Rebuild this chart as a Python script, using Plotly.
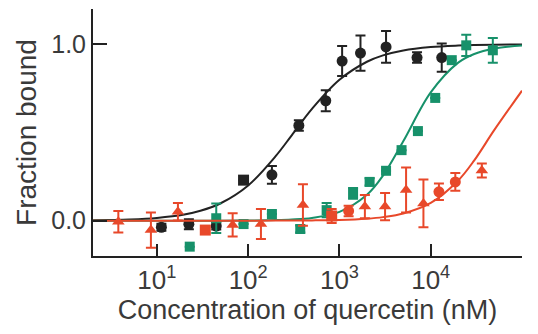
import plotly.graph_objects as go

# ---- data ----
# Black series (circles)
black_x = [11.2, 22.4, 44.7, 89, 182, 359, 708, 1070, 1700, 3240, 7080, 13200]
black_y = [-0.037, -0.02, -0.03, 0.23, 0.26, 0.54, 0.68, 0.905, 0.95, 0.985, 0.925, 0.925]
black_err = [0.02, 0.028, 0.02, 0.0, 0.05, 0.03, 0.06, 0.085, 0.1, 0.09, 0.03, 0.08]
black_sym = ["circle", "circle", "circle", "square", "circle", "circle", "circle",
             "circle", "circle", "circle", "circle", "circle"]

# Green series (squares)
green_x = [44.7, 22.9, 89, 182, 372, 724, 1410, 2140, 3240, 4790, 7240, 11200, 17000, 24500, 47900]
green_y = [0.014, -0.147, -0.019, 0.038, -0.047, 0.06, 0.155, 0.22, 0.283, 0.40, 0.508, 0.696, 0.91, 0.994, 0.966]
green_err = [0.083, 0.0, 0.0, 0.0, 0.02, 0.04, 0.03, 0.02, 0.0, 0.0, 0.0, 0.0, 0.0, 0.06, 0.07]

# Red series (triangles / circles)
red_x = [3.78, 8.6, 17, 33.9, 67.6, 138, 398, 822, 1260, 1900, 3160, 5370, 8320, 12300, 18600, 36300]
red_y = [-0.006, -0.053, 0.051, -0.053, -0.024, -0.019, 0.089, 0.027, 0.055, 0.08, 0.08, 0.174, 0.098, 0.164, 0.22, 0.285]
red_err = [0.061, 0.1, 0.05, 0.015, 0.066, 0.085, 0.118, 0.04, 0.03, 0.066, 0.077, 0.127, 0.135, 0.047, 0.05, 0.04]
red_sym = ["triangle-up", "triangle-up", "triangle-up", "square", "triangle-up", "triangle-up",
           "triangle-up", "square", "circle", "triangle-up", "triangle-up", "triangle-up",
           "triangle-up", "circle", "circle", "triangle-up"]

# Fitted curves, values
curve_x = [2, 3, 5, 10, 20, 30, 50, 100, 200, 300, 500, 1000, 2000, 3000, 5000,
           10000, 20000, 30000, 50000, 100000]
black_fit = [0.002, 0.004, 0.007, 0.016, 0.035, 0.056, 0.099, 0.20, 0.366, 0.484, 0.634,
             0.799, 0.901, 0.937, 0.965, 0.984, 0.993, 0.996, 0.998, 0.999]
green_fit = [0.0, 0.0, 0.0, 0.0, 0.0, 0.0, 0.0003, 0.0011, 0.0034, 0.0068, 0.016,
             0.050, 0.147, 0.256, 0.450, 0.727, 0.896, 0.945, 0.976, 0.993]
red_fit = [0.0, 0.0, 0.0, 0.0, 0.0, 0.0, 0.0, 0.0002, 0.0006, 0.001, 0.0017,
           0.0044, 0.0116, 0.0203, 0.0406, 0.1005, 0.228, 0.342, 0.516, 0.737]

x_tickvals = [10, 100, 1000, 10000, 100000]
x_ticktext = ["10<sup>1</sup>", "10<sup>2</sup>", "10<sup>3</sup>", "10<sup>4</sup>", "10<sup>5</sup>"]
y_tickvals = [0, 1, 1.2]
y_ticktext = ["0.0", "1.0", ""]

BLACK = "#222222"
GREEN = "#17916a"
RED = "#e8482a"

fig = go.Figure()

def curve(y, color):
    fig.add_trace(go.Scatter(x=curve_x, y=y, mode="lines",
                             line=dict(color=color, width=2, shape="spline"),
                             hoverinfo="skip", showlegend=False))

def points(x, y, err, color, sym, size):
    fig.add_trace(go.Scatter(x=x, y=y, mode="markers",
                             marker=dict(color=color, symbol=sym, size=size, line=dict(width=0)),
                             error_y=dict(type="data", array=err, color=color, thickness=2, width=5),
                             showlegend=False))

curve(black_fit, BLACK)
curve(green_fit, GREEN)
points(black_x, black_y, black_err, BLACK, black_sym, 11)
points(green_x, green_y, green_err, GREEN, "square", 10)
curve(red_fit, RED)
points(red_x, red_y, red_err, RED, red_sym, 11)

font_family = "Liberation Sans, Arial, sans-serif"
fig.update_layout(
    width=538, height=334,
    margin=dict(l=93, r=16, t=9, b=78),
    paper_bgcolor="white", plot_bgcolor="white",
    font=dict(family=font_family, color="#3a3a3a", size=25),
    xaxis=dict(type="log", range=[0.3, 5.0],
               tickmode="array", tickvals=x_tickvals, ticktext=x_ticktext,
               ticks="inside", ticklen=12, tickwidth=2, tickcolor=BLACK,
               showline=True, linewidth=2, linecolor=BLACK, showgrid=False, zeroline=False,
               tickfont=dict(size=26),
               title=dict(text="Concentration of quercetin (nM)", font=dict(size=27), standoff=6)),
    yaxis=dict(range=[-0.2, 1.2],
               tickmode="array", tickvals=y_tickvals, ticktext=y_ticktext,
               ticks="inside", ticklen=14, tickwidth=2, tickcolor=BLACK,
               showline=True, linewidth=2, linecolor=BLACK, showgrid=False, zeroline=False,
               tickfont=dict(size=25),
               title=dict(text="Fraction bound", font=dict(size=28), standoff=6)),
)

fig.write_html("out.html")
